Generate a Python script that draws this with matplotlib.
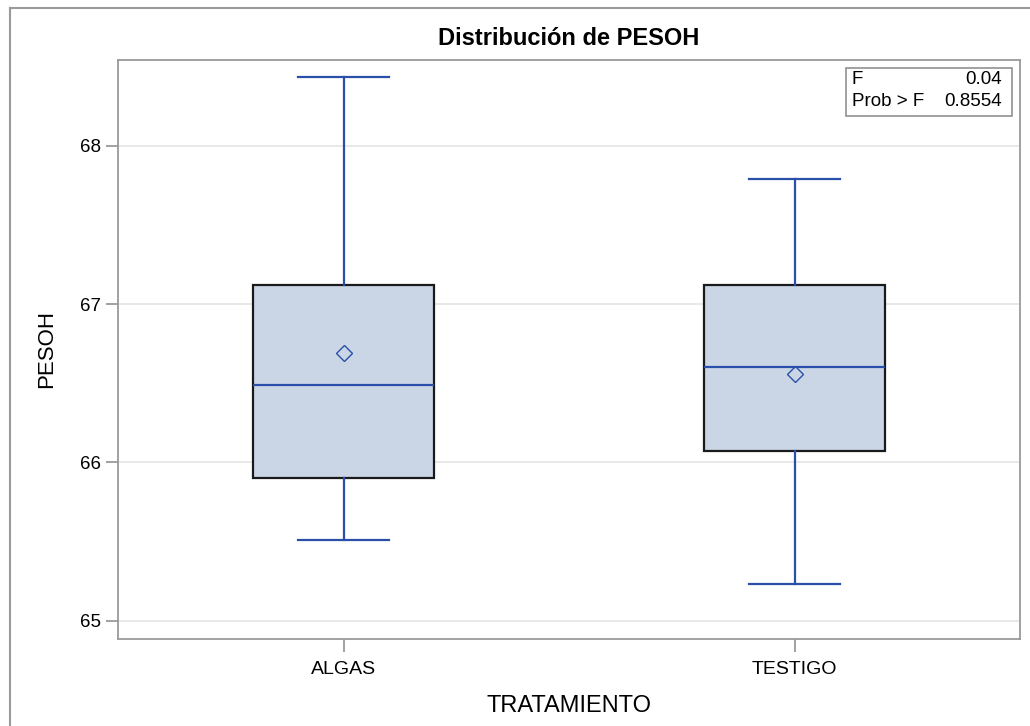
import matplotlib.pyplot as plt
from matplotlib.lines import Line2D

# data
groups = ['ALGAS', 'TESTIGO']
whislo = [65.51, 65.23]
q1 = [65.90, 66.07]
med = [66.49, 66.60]
q3 = [67.12, 67.12]
whishi = [68.43, 67.79]
means = [66.69, 66.56]
f_value = '0.04'
prob_f = '0.8554'

plt.rcParams['font.family'] = ['Liberation Sans', 'DejaVu Sans']

blue = '#2a4fa8'
fig = plt.figure(figsize=(10.3, 7.26), dpi=100)
ax = fig.add_axes([118 / 1030, 1 - 639 / 726, (1020 - 118) / 1030, (639 - 60) / 726])

stats = []
for i in range(len(groups)):
    stats.append(dict(label=groups[i], whislo=whislo[i], q1=q1[i], med=med[i],
                      q3=q3[i], whishi=whishi[i], mean=means[i], fliers=[]))

ax.bxp(stats, positions=[0, 1], widths=0.4, patch_artist=True, showmeans=True,
       boxprops=dict(facecolor='#cad5e6', edgecolor='#1a1a1a', linewidth=1.6),
       medianprops=dict(color=blue, linewidth=1.6),
       whiskerprops=dict(color=blue, linewidth=1.6),
       capprops=dict(color=blue, linewidth=1.6),
       capwidths=0.2,
       meanprops=dict(marker='D', markerfacecolor='none', markeredgecolor=blue,
                      markersize=8, markeredgewidth=1.0),
       zorder=3)

ax.set_xlim(-0.5, 1.5)
ax.set_ylim(64.886, 68.54)
ax.set_yticks([65, 66, 67, 68])
ax.yaxis.grid(True, color='#e6e6e6', linewidth=1.3, zorder=0)
ax.set_axisbelow(True)
for s in ax.spines.values():
    s.set_color('#9a9a9a')
    s.set_linewidth(1.3)
ax.tick_params(colors='#9a9a9a', labelcolor='black', length=9, width=1.3, labelsize=14)
ax.tick_params(axis='y', labelsize=13.5)
ax.tick_params(axis='x', pad=7)

ax.set_xlabel('TRATAMIENTO', fontsize=17, labelpad=12)
ax.set_ylabel('PESOH', fontsize=16, labelpad=16)
ax.set_title('Distribución de PESOH', fontsize=17, fontweight='bold', pad=11)

# stats inset box
ax.text(0.8135, 0.981, 'F\nProb > F', transform=ax.transAxes, ha='left', va='top',
        fontsize=13.5, linespacing=1.4)
ax.text(0.980, 0.981, f_value + '\n' + prob_f, transform=ax.transAxes, ha='right',
        va='top', fontsize=13.5, linespacing=1.4)
ax.add_patch(plt.Rectangle((0.8068, 0.903), 0.1847, 0.083, transform=ax.transAxes,
                           fill=False, edgecolor='#9a9a9a', linewidth=1.3, zorder=5))

# outer frame of the original page
fig.add_artist(Line2D([10 / 1030, 10 / 1030], [0, 1 - 8 / 726], color='#9a9a9a', lw=1.5))
fig.add_artist(Line2D([10 / 1030, 1], [1 - 8 / 726, 1 - 8 / 726], color='#9a9a9a', lw=1.5))

fig.savefig('out.png', dpi=100)
